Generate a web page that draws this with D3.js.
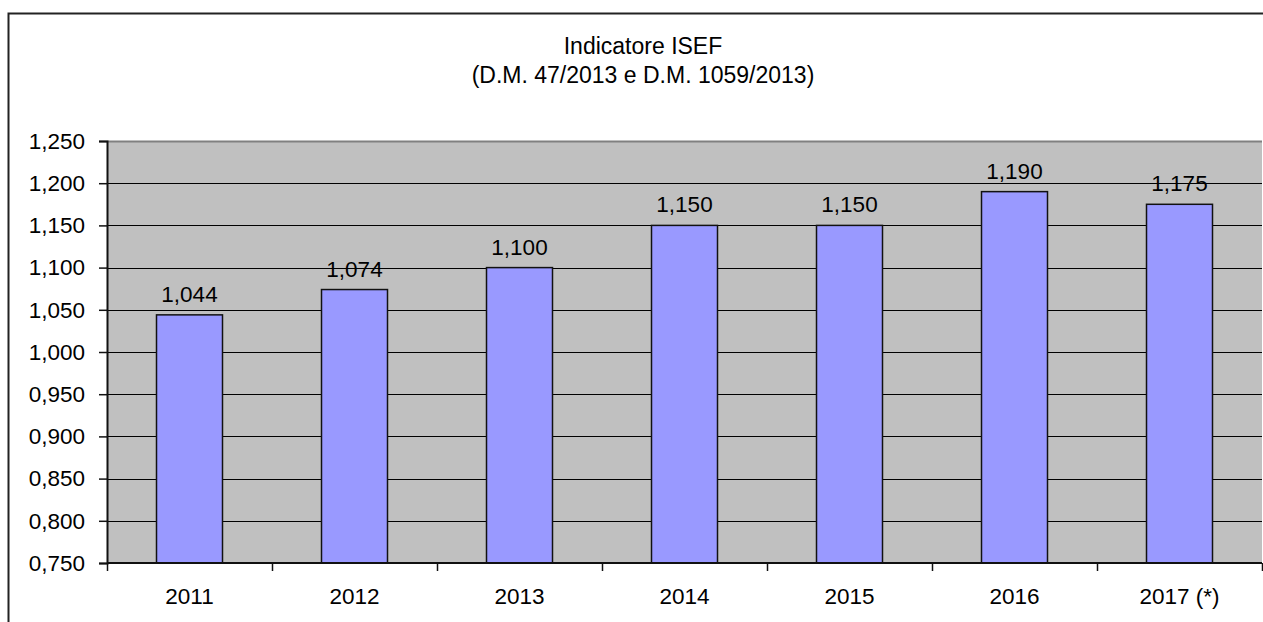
<!DOCTYPE html>
<html>
<head>
<meta charset="utf-8">
<script src="https://cdn.jsdelivr.net/npm/d3@7"></script>
<style>
  body { margin: 0; background: #fff; }
  svg { display: block; font-family: "Liberation Sans", Arial, sans-serif; }
</style>
</head>
<body>
<svg id="chart"></svg>
<script>
var years = ["2011", "2012", "2013", "2014", "2015", "2016", "2017 (*)"];
var isef = [1.044, 1.074, 1.100, 1.150, 1.150, 1.190, 1.175];
var yTicks = [0.75, 0.80, 0.85, 0.90, 0.95, 1.00, 1.05, 1.10, 1.15, 1.20, 1.25];
var titleLines = ["Indicatore ISEF", "(D.M. 47/2013 e D.M. 1059/2013)"];

var svgWidth = 1263, svgHeight = 622;
var margin = { top: 141, right: 1, bottom: 59, left: 107 };
var width = svgWidth - margin.left - margin.right;
var height = svgHeight - margin.top - margin.bottom;
var fontSize = "22.5px";

var fmt = function(v) { return d3.format(".3f")(v).replace(".", ","); };

var svg = d3.select("#chart")
    .attr("width", svgWidth)
    .attr("height", svgHeight);

// outer frame (runs off the right and bottom edge)
svg.append("rect")
    .attr("x", 8.5).attr("y", 13.5)
    .attr("width", 1270).attr("height", 640)
    .attr("fill", "none")
    .attr("stroke", "#222")
    .attr("stroke-width", 2);

svg.selectAll(".title")
    .data(titleLines)
    .enter().append("text")
    .attr("x", 643)
    .attr("y", function(d, i) { return 54 + i * 29; })
    .attr("text-anchor", "middle")
    .attr("font-size", "23px")
    .attr("fill", "#000")
    .text(function(d) { return d; });

var g = svg.append("g")
    .attr("transform", "translate(" + margin.left + "," + margin.top + ")");

var x = d3.scaleBand()
    .domain(years)
    .range([0, width])
    .paddingInner(0.6)
    .paddingOuter(0.3);

var y = d3.scaleLinear()
    .domain([0.75, 1.25])
    .range([height, 0]);

g.append("rect")
    .attr("width", width)
    .attr("height", height)
    .attr("fill", "#c0c0c0");

// plot top border
g.append("line")
    .attr("x1", 0).attr("x2", width)
    .attr("y1", 0.5).attr("y2", 0.5)
    .attr("stroke", "#808080")
    .attr("stroke-width", 2);

// gridlines
g.selectAll(".grid")
    .data(yTicks.slice(1, -1))
    .enter().append("line")
    .attr("x1", 0).attr("x2", width)
    .attr("y1", function(d) { return Math.round(y(d)) + 0.5; })
    .attr("y2", function(d) { return Math.round(y(d)) + 0.5; })
    .attr("stroke", "#000")
    .attr("stroke-width", 1.2);

// bars
g.selectAll(".bar")
    .data(isef)
    .enter().append("rect")
    .attr("x", function(d, i) { return x(years[i]); })
    .attr("y", function(d) { return y(d); })
    .attr("width", x.bandwidth())
    .attr("height", function(d) { return height - y(d); })
    .attr("fill", "#9999ff")
    .attr("stroke", "#111")
    .attr("stroke-width", 1.5);

g.selectAll(".val")
    .data(isef)
    .enter().append("text")
    .attr("x", function(d, i) { return x(years[i]) + x.bandwidth() / 2; })
    .attr("y", function(d) { return y(d) - 13; })
    .attr("text-anchor", "middle")
    .attr("font-size", fontSize)
    .attr("fill", "#000")
    .text(function(d) { return fmt(d); });

// y axis
var yAxis = g.append("g")
    .call(d3.axisLeft(y).tickValues(yTicks).tickSize(8).tickPadding(14).tickFormat(fmt));
yAxis.select(".domain").attr("stroke", "#111").attr("stroke-width", 2);
yAxis.selectAll(".tick line").attr("stroke", "#111").attr("stroke-width", 1.5);
yAxis.selectAll("text").attr("font-size", fontSize).attr("fill", "#000")
    .attr("font-family", "Liberation Sans, Arial, sans-serif");

// x axis: ticks between categories
var xBounds = d3.range(years.length + 1).map(function(i) { return i * width / years.length; });
var xAxis = g.append("g")
    .attr("transform", "translate(0," + height + ")");
xAxis.append("line")
    .attr("x1", 0).attr("x2", width)
    .attr("stroke", "#111")
    .attr("stroke-width", 2);
xAxis.selectAll(".xt")
    .data(xBounds)
    .enter().append("line")
    .attr("x1", function(d) { return Math.round(d) + 0.5; })
    .attr("x2", function(d) { return Math.round(d) + 0.5; })
    .attr("y1", 0).attr("y2", 8)
    .attr("stroke", "#111")
    .attr("stroke-width", 1.5);
xAxis.selectAll(".xl")
    .data(years)
    .enter().append("text")
    .attr("x", function(d) { return x(d) + x.bandwidth() / 2; })
    .attr("y", 41)
    .attr("text-anchor", "middle")
    .attr("font-size", fontSize)
    .attr("fill", "#000")
    .text(function(d) { return d; });
</script>
</body>
</html>
